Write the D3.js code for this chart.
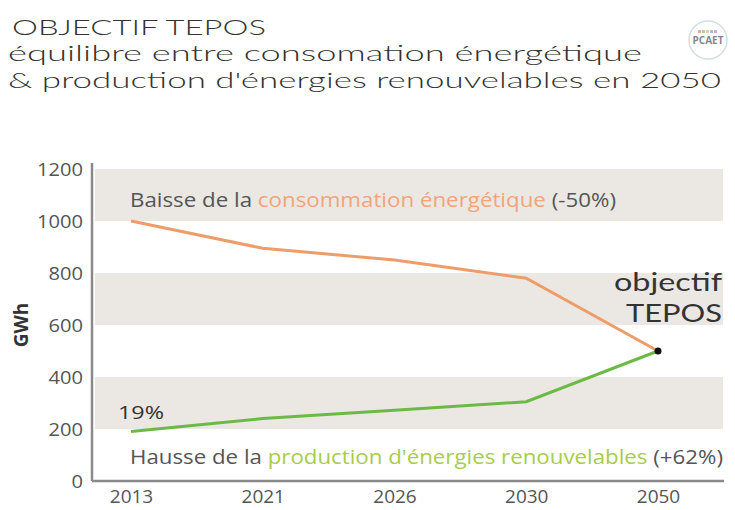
<!DOCTYPE html>
<html>
<head>
<meta charset="utf-8">
<script src="https://cdn.jsdelivr.net/npm/d3@7"></script>
<style>
  body { margin: 0; background: #fff; }
  svg { display: block; }
</style>
</head>
<body>
<div id="plot"></div>
<script>
// data
var years = ["2013", "2021", "2026", "2030", "2050"];
var consommation = [1000, 895, 850, 780, 500];
var production = [190, 240, 272, 305, 500];
var yTicks = [0, 200, 400, 600, 800, 1000, 1200];
var bands = [[1000, 1200], [600, 800], [200, 400]];

var W = 735, H = 510;

var svg = d3.select("div#plot")
  .append("svg")
    .attr("width", W)
    .attr("height", H);

var cond = "'Liberation Sans Narrow', 'Open Sans', sans-serif";
var title = "Lato, 'DejaVu Sans', sans-serif";

// titles
[["OBJECTIF TEPOS", 12, 35, 254],
 ["équilibre entre consomation énergétique", 8, 61, 634],
 ["& production d'énergies renouvelables en 2050", 8, 88, 713]].forEach(function(l) {
  svg.append("text")
    .attr("x", l[1]).attr("y", l[2])
    .attr("font-family", title).attr("font-weight", 300)
    .attr("font-size", 22).attr("fill", "#333")
    .attr("textLength", l[3]).attr("lengthAdjust", "spacingAndGlyphs")
    .text(l[0]);
});

// little logo top right
var logo = svg.append("g").attr("transform", "translate(708,40)").attr("opacity", 0.6);
logo.append("circle").attr("r", 19).attr("fill", "#fff").attr("stroke", "#b9c9d6").attr("stroke-width", 1.5);
logo.append("text").attr("y", 4).attr("text-anchor", "middle")
  .attr("font-family", cond).attr("font-weight", "bold").attr("font-size", 10)
  .attr("fill", "#334").text("PCAET");
["#e66", "#6b6", "#ea4", "#69c", "#c6c"].forEach(function(c, i) {
  logo.append("rect").attr("x", -10 + i * 4).attr("y", -10).attr("width", 3).attr("height", 3).attr("fill", c);
});

var x = d3.scalePoint().domain(years).range([131, 658]);
var y = d3.scaleLinear().domain([0, 1200]).range([481, 169]);

// grey bands
svg.append("g").selectAll("rect")
  .data(bands)
  .enter().append("rect")
    .attr("x", 95)
    .attr("width", 628)
    .attr("y", function(d) { return y(d[1]); })
    .attr("height", function(d) { return y(d[0]) - y(d[1]); })
    .attr("fill", "#ebe8e4");

// axes
var yAxis = svg.append("g")
  .attr("transform", "translate(92,0)")
  .call(d3.axisLeft(y).tickValues(yTicks).tickFormat(d3.format("d")).tickSize(0).tickPadding(9));
var xAxis = svg.append("g")
  .attr("transform", "translate(0,481)")
  .call(d3.axisBottom(x).tickSize(0).tickPadding(9));
[yAxis, xAxis].forEach(function(a) {
  a.select(".domain").attr("stroke", "#8a8a8a").attr("stroke-width", 2.5);
  a.selectAll("text").attr("font-family", cond).attr("font-size", 19).attr("fill", "#555");
});
yAxis.selectAll("text").attr("textLength", function(d) { return String(d).length * 11.5; })
  .attr("lengthAdjust", "spacingAndGlyphs");
yAxis.select(".domain").attr("d", "M0,163V481");
xAxis.select(".domain").attr("d", "M92,0H724");

svg.append("text")
  .attr("transform", "translate(28,325) rotate(-90)")
  .attr("text-anchor", "middle")
  .attr("font-family", "'Open Sans', sans-serif").attr("font-weight", "bold")
  .attr("font-size", 19).attr("fill", "#333")
  .text("GWh");

// lines
var line = d3.line()
  .x(function(d, i) { return x(years[i]); })
  .y(function(d) { return y(d); });

svg.append("path").datum(consommation)
  .attr("d", line).attr("fill", "none")
  .attr("stroke", "#ee9d6a").attr("stroke-width", 3);
svg.append("path").datum(production)
  .attr("d", line).attr("fill", "none")
  .attr("stroke", "#6cba46").attr("stroke-width", 3);

svg.append("circle")
  .attr("cx", x("2050")).attr("cy", y(500)).attr("r", 3.5).attr("fill", "#111");

// annotations
var t1 = svg.append("text")
  .attr("x", 130).attr("y", 207)
  .attr("font-family", cond).attr("font-size", 20).attr("fill", "#555")
  .attr("textLength", 486).attr("lengthAdjust", "spacingAndGlyphs");
t1.append("tspan").text("Baisse de la ");
t1.append("tspan").attr("fill", "#f3a479").text("consommation énergétique");
t1.append("tspan").text(" (-50%)");

var t2 = svg.append("text")
  .attr("x", 130).attr("y", 464)
  .attr("font-family", cond).attr("font-size", 20).attr("fill", "#555")
  .attr("textLength", 593).attr("lengthAdjust", "spacingAndGlyphs");
t2.append("tspan").text("Hausse de la ");
t2.append("tspan").attr("fill", "#a8cc4c").text("production d'énergies renouvelables");
t2.append("tspan").text(" (+62%)");

svg.append("text")
  .attr("x", 118).attr("y", 419)
  .attr("font-family", cond).attr("font-size", 19).attr("fill", "#333")
  .attr("textLength", 46).attr("lengthAdjust", "spacingAndGlyphs")
  .text(production[0] / 10 + "%");

[["objectif", 291, 108], ["TEPOS", 322, 96]].forEach(function(l) {
  svg.append("text")
    .attr("x", 722 - l[2]).attr("y", l[1])
    .attr("font-family", "Lato, 'Open Sans', sans-serif").attr("font-size", 25).attr("fill", "#333")
    .attr("textLength", l[2]).attr("lengthAdjust", "spacingAndGlyphs")
    .text(l[0]);
});
</script>
</body>
</html>
